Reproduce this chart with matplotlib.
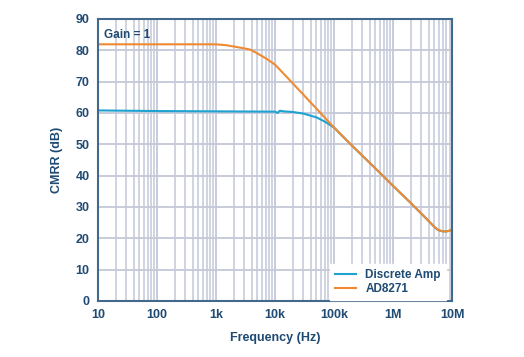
import numpy as np
import matplotlib
matplotlib.use("Agg")
import matplotlib.pyplot as plt
from matplotlib.ticker import FixedLocator, NullFormatter

# values
freq_discrete = [10, 100, 1e3, 1e4, 1.1e4, 1.2e4, 1.4e4, 2e4, 3e4, 5e4, 7e4, 1e5,
                 2e5, 5e5, 1e6, 2e6, 4e6, 5e6, 5.8e6, 7e6, 8e6, 9e6, 1e7]
cmrr_discrete = [60.8, 60.6, 60.5, 60.4, 60.0, 60.7, 60.5, 60.3, 59.8, 58.6, 57.2, 55.3,
                 49.6, 42.3, 36.7, 31.2, 25.5, 23.6, 22.6, 22.2, 22.2, 22.4, 22.9]

freq_ad8271 = [10, 100, 1e3, 1.5e3, 2e3, 3e3, 3.8e3, 5e3, 7e3, 1e4, 2e4, 5e4, 1e5,
               2e5, 5e5, 1e6, 2e6, 4e6, 5e6, 5.8e6, 7e6, 8e6, 9e6, 1e7]
cmrr_ad8271 = [81.9, 81.9, 81.9, 81.6, 81.2, 80.6, 80.2, 79.0, 77.4, 75.4, 69.4, 61.4, 55.3,
               49.6, 42.3, 36.7, 31.2, 25.5, 23.6, 22.6, 22.2, 22.2, 22.4, 22.9]

x_ticks = [10, 100, 1e3, 1e4, 1e5, 1e6, 1e7]
x_labels = ["10", "100", "1k", "10k", "100k", "1M", "10M"]
y_ticks = list(range(0, 91, 10))

text_color = "#1f4a73"
grid_color = "#c4c8d8"
spine_color = "#41698c"

plt.rcParams['font.family'] = ['Liberation Sans', 'DejaVu Sans']
plt.rcParams['font.weight'] = 'bold'

fig = plt.figure(figsize=(5.24, 3.57), dpi=100)
ax = fig.add_axes([0.187, 0.157, 0.676, 0.79])

ax.plot(freq_discrete, cmrr_discrete, color="#1ea2cf", lw=1.5, label="Discrete Amp")
ax.plot(freq_ad8271, cmrr_ad8271, color="#f08a32", lw=1.5, label="AD8271")

ax.set_xscale("log")
ax.set_xlim(10, 1e7)
ax.set_ylim(0, 90)
ax.xaxis.set_major_locator(FixedLocator(x_ticks))
ax.set_xticklabels(x_labels)
minor = [m * 10**d for d in range(1, 7) for m in range(2, 10)]
ax.xaxis.set_minor_locator(FixedLocator(minor))
ax.xaxis.set_minor_formatter(NullFormatter())
ax.set_yticks(y_ticks)

ax.grid(True, which="major", color=grid_color, lw=1.3)
ax.grid(True, which="minor", axis="x", color=grid_color, lw=1.1)
ax.set_axisbelow(True)
ax.tick_params(which="both", length=0, labelsize=9, colors=text_color, pad=6)
for s in ax.spines.values():
    s.set_color(spine_color)
    s.set_linewidth(1.5)

ax.set_xlabel("Frequency (Hz)", fontsize=9, color=text_color, fontweight="bold", labelpad=8)
ax.set_ylabel("CMRR (dB)", fontsize=9, color=text_color, fontweight="bold", labelpad=9)
ax.text(0.018, 0.965, "Gain = 1", transform=ax.transAxes, fontsize=8.5, color=text_color,
        fontweight="bold", va="top", ha="left")

leg = ax.legend(loc="lower right", bbox_to_anchor=(0.985, 0.0), fontsize=8.5, frameon=True,
                fancybox=False, borderaxespad=0.1, handlelength=1.8, labelspacing=0.2)
leg.get_frame().set_edgecolor("white")
leg.get_frame().set_alpha(1)
for t in leg.get_texts():
    t.set_color(text_color)

fig.savefig("out.png", dpi=100)
